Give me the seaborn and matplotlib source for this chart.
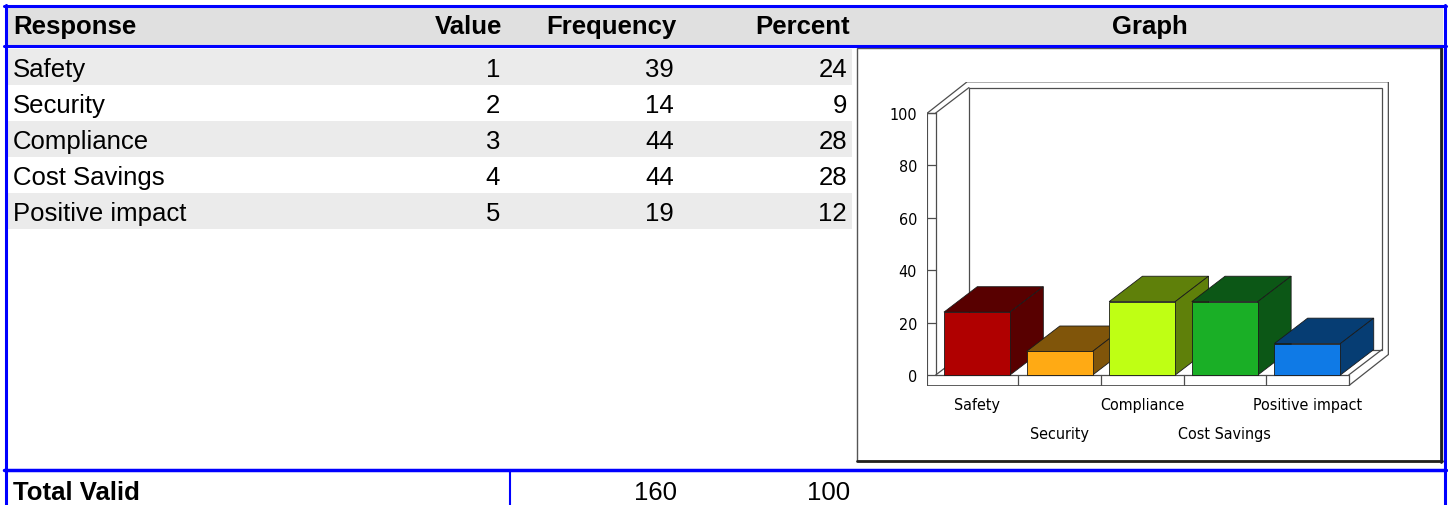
import matplotlib
matplotlib.use("Agg")
import matplotlib.pyplot as plt
from matplotlib import font_manager
from matplotlib.patches import Polygon, Rectangle
import seaborn as sns

# table / chart data
responses = ["Safety", "Security", "Compliance", "Cost Savings", "Positive impact"]
values = [1, 2, 3, 4, 5]
frequency = [39, 14, 44, 44, 19]
percent = [24, 9, 28, 28, 12]
total_freq = 160
total_pct = 100
yticks = [0, 20, 40, 60, 80, 100]
headers = ["Response", "Value", "Frequency", "Percent", "Graph"]

front_colors = ["#b00000", "#ffaa14", "#bfff14", "#1aaf26", "#0f7ae6"]
shade_colors = ["#580000", "#80550a", "#5f800a", "#0c5716", "#063d73"]

sns.set_theme(style="white")
plt.rcParams["font.family"] = ["Liberation Sans", "DejaVu Sans"]
plt.rcParams["text.color"] = "black"
plt.rcParams["xtick.labelcolor"] = "black"
plt.rcParams["ytick.labelcolor"] = "black"

# the chart labels in the reference use a narrow face; take one if present
fonts = font_manager.fontManager.ttflist
names = {f.name for f in fonts}
if "Liberation Sans Narrow" in names:
    chart_font = dict(family="Liberation Sans Narrow", fontsize=13)
elif any(f.name == "DejaVu Sans" and f.stretch == "condensed" for f in fonts):
    chart_font = dict(family="DejaVu Sans", fontstretch="condensed", fontsize=11.5)
else:
    chart_font = dict(family="Liberation Sans", fontsize=11.5)

W, H = 1448, 506
fig = plt.figure(figsize=(W / 100, H / 100), dpi=100)
fig.patch.set_facecolor("white")

# background axes in pixel units for the table layout
bg = fig.add_axes([0, 0, 1, 1])
bg.set_xlim(0, W)
bg.set_ylim(H, 0)
bg.axis("off")

BLUE = "#0000ff"
FS = 18.5
ROW_H = 36
ROW_TOP = 50

bg.add_patch(Rectangle((7, 8), 1436, 38, color="#e0e0e0", lw=0))
for i, resp in enumerate(responses):
    y = ROW_TOP + i * ROW_H
    if i % 2 == 0:
        bg.add_patch(Rectangle((8, y), 844, ROW_H, color="#ebebeb", lw=0))
    base = y + 27
    bg.text(13, base, resp, fontsize=FS, va="baseline")
    bg.text(500, base, str(values[i]), fontsize=FS, va="baseline", ha="right")
    bg.text(674, base, str(frequency[i]), fontsize=FS, va="baseline", ha="right")
    bg.text(847, base, str(percent[i]), fontsize=FS, va="baseline", ha="right")

# header row
bg.text(13, 34, headers[0], fontsize=FS, fontweight="bold", va="baseline")
bg.text(502, 34, headers[1], fontsize=FS, fontweight="bold", va="baseline", ha="right")
bg.text(676, 34, headers[2], fontsize=FS, fontweight="bold", va="baseline", ha="right")
bg.text(850, 34, headers[3], fontsize=FS, fontweight="bold", va="baseline", ha="right")
bg.text(1150, 34, headers[4], fontsize=FS, fontweight="bold", va="baseline", ha="center")

# total row
bg.text(13, 500, "Total Valid", fontsize=FS, fontweight="bold", va="baseline")
bg.text(677, 500, str(total_freq), fontsize=FS, va="baseline", ha="right")
bg.text(850, 500, str(total_pct), fontsize=FS, va="baseline", ha="right")

# graph panel
bg.add_patch(Rectangle((857, 49), 585, 413, facecolor="white", edgecolor="#555555", lw=1))
bg.plot([1441, 1441], [49, 463], color="#222222", lw=2)
bg.plot([857, 1442], [461.5, 461.5], color="#222222", lw=2)

# blue borders
bg.plot([4, 1446], [7, 7], color=BLUE, lw=2.2)
bg.plot([4, 1446], [47, 47], color=BLUE, lw=2.2)
bg.plot([4, 1446], [471, 471], color=BLUE, lw=2.5)
bg.plot([5.5, 5.5], [6, H], color=BLUE, lw=2.2)
bg.plot([1444.5, 1444.5], [6, H], color=BLUE, lw=2.2)
bg.plot([510, 510], [471, H], color=BLUE, lw=1.5)

# chart axes, placed so category 0 / value 0 land where the reference has them
PX_X, PX_Y = 82.6, 2.62
X0_PX, Y0_PX = 977, 376
xlim = (-0.6, 5.0)
ylim = (-4.1, 111.9)
left_px = X0_PX + xlim[0] * PX_X
right_px = X0_PX + xlim[1] * PX_X
bottom_px = Y0_PX - ylim[0] * PX_Y
top_px = Y0_PX - ylim[1] * PX_Y
ax = fig.add_axes([left_px / W, (H - bottom_px) / H,
                   (right_px - left_px) / W, (bottom_px - top_px) / H])
ax.patch.set_visible(False)

n = len(responses)
DX, DY = 0.403, 9.7        # depth of bars / inner walls
ODX, ODY = 0.48, 11.9      # depth of outer wall edges
wx, ft = 0.1, 4.1          # wall and floor thickness
xl, xr = -0.5, n - 0.5
ymax = yticks[-1]
LC = "#4d4d4d"
LW = 0.9

outer = [(xl - wx, -ft), (xr, -ft), (xr + ODX, -ft + ODY), (xr + ODX, ymax + ODY),
         (xl - wx + ODX, ymax + ODY), (xl - wx, ymax)]
ax.add_patch(Polygon(outer, closed=True, facecolor="white", edgecolor=LC, lw=LW, zorder=1))
back = [(xl + DX, DY), (xr + DX, DY), (xr + DX, ymax + DY), (xl + DX, ymax + DY)]
ax.add_patch(Polygon(back, closed=True, facecolor="white", edgecolor=LC, lw=LW, zorder=1.5))
segs = [
    [(xl, 0), (xl, ymax)],
    [(xl - wx, ymax), (xl, ymax)],
    [(xl, ymax), (xl + DX, ymax + DY)],
    [(xl, 0), (xr, 0)],
    [(xr, 0), (xr, -ft)],
    [(xr, 0), (xr + DX, DY)],
    [(xl, 0), (xl + DX, DY)],
]
for t in yticks:
    segs.append([(xl - wx, t), (xl, t)])
for k in range(n - 1):
    segs.append([(k + 0.5, 0), (k + 0.5, -ft)])
for s in segs:
    ax.plot([s[0][0], s[1][0]], [s[0][1], s[1][1]], color=LC, lw=LW, zorder=2)

sns.barplot(x=responses, y=percent, hue=responses, palette=front_colors, legend=False,
            width=0.8, saturation=1, edgecolor="#1a1a1a", linewidth=0.6, ax=ax)

for i, cont in enumerate(ax.containers):
    bar = cont[0]
    bx, bw, bh = bar.get_x(), bar.get_width(), bar.get_height()
    z = 3 + 2 * i
    bar.set_zorder(z + 1)
    top = [(bx, bh), (bx + bw, bh), (bx + bw + DX, bh + DY), (bx + DX, bh + DY)]
    side = [(bx + bw, 0), (bx + bw + DX, DY), (bx + bw + DX, bh + DY), (bx + bw, bh)]
    for poly in (top, side):
        ax.add_patch(Polygon(poly, closed=True, facecolor=shade_colors[i],
                             edgecolor="#1a1a1a", lw=0.6, zorder=z))

ax.set_xlim(*xlim)
ax.set_ylim(*ylim)
ax.set_yticks(yticks)
ax.set_yticklabels([str(t) for t in yticks], **chart_font)
ax.set_xticks(range(n))
ax.set_xticklabels(responses, **chart_font)
ax.tick_params(axis="y", length=0, pad=7.5)
ax.tick_params(axis="x", length=0, pad=8)
for k, tick in enumerate(ax.xaxis.get_major_ticks()):
    if k % 2 == 1:
        tick.set_pad(29)
ax.set_xlabel("")
ax.set_ylabel("")
sns.despine(ax=ax, left=True, bottom=True)

fig.savefig("out.png", dpi=100)
plt.close(fig)
